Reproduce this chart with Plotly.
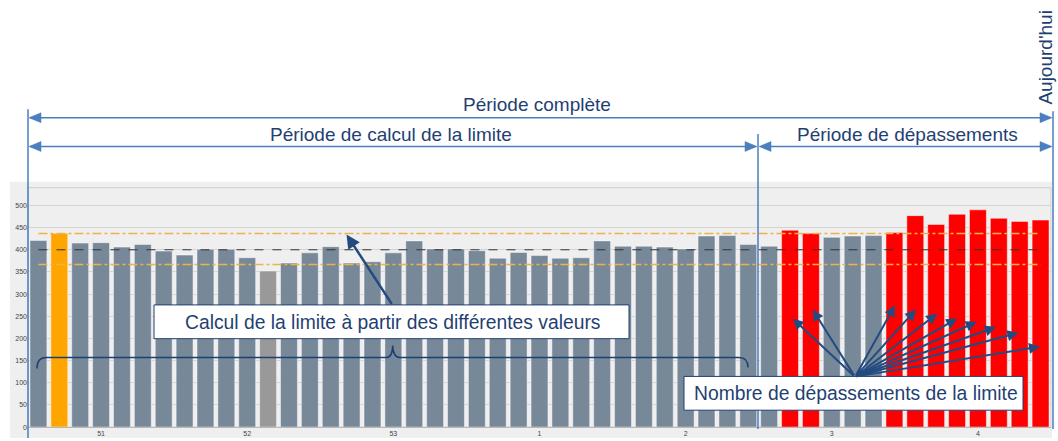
import plotly.graph_objects as go

W, H = 1058, 441

# ---------------- data ----------------
values = [421, 437, 415, 416, 406, 412, 397, 388, 401, 401, 382, 352, 370, 393, 407, 370,
          373, 393, 420, 402, 402, 398, 381, 394, 387, 381, 382, 420, 408, 408, 406, 402,
          431, 432, 412, 408, 444, 437, 428, 431, 432, 439, 477, 457, 480, 490, 471, 464, 467]

SLATE, ORANGE, GREY, RED = "#778899", "#ffa500", "#999999", "#ff0000"
bar_colors = [SLATE, ORANGE] + [SLATE] * 9 + [GREY] + [SLATE] * 24 + [RED, RED] + [SLATE] * 3 + [RED] * 8

week_tick_pos = [3, 10, 17, 24, 31, 38, 45]
week_labels = ["51", "52", "53", "1", "2", "3", "4"]

mean_value = 400
upper_limit = 436.5
lower_limit = 366.5

y_ticks = list(range(0, 501, 50))

FONT = "Liberation Sans, Arial, sans-serif"
NAVY = "#1f3f73"
ARROW = "#234b80"
BLUE = "#4a7ebf"


def px(x):
    return x / W


def py(y):
    return (H - y) / H


x_idx = list(range(len(values)))

fig = go.Figure()
fig.add_trace(go.Bar(
    x=x_idx, y=values,
    marker=dict(color=bar_colors, line=dict(color="rgba(255,255,255,0.45)", width=1)),
    hoverinfo="y",
))

shapes = []
# grey chart area outside the plot area
for (x0, y0, x1, y1) in [(10, 183, 28, 441), (28, 183, 1052, 189), (28, 430, 1052, 441)]:
    shapes.append(dict(type="rect", xref="paper", yref="paper", x0=px(x0), x1=px(x1),
                       y0=py(y1), y1=py(y0), fillcolor="#efefef", line=dict(width=0), layer="below"))
# plot area border
shapes.append(dict(type="rect", xref="paper", yref="paper", x0=px(28), x1=px(1051),
                   y0=py(430), y1=py(189), line=dict(color="#cccccc", width=1), layer="below"))

# reference lines
shapes.append(dict(type="line", xref="x", yref="y", x0=0, x1=len(values) - 1, y0=mean_value, y1=mean_value,
                   line=dict(color="#333333", width=1, dash="dash")))
for lim in (upper_limit, lower_limit):
    shapes.append(dict(type="line", xref="x", yref="y", x0=0, x1=len(values) - 1, y0=lim, y1=lim,
                       line=dict(color="#eeb24a", width=1.5, dash="dashdot")))


def vline(x, y0, y1, color=BLUE, width=1.5):
    shapes.append(dict(type="line", xref="paper", yref="paper", x0=px(x), x1=px(x), y0=py(y0), y1=py(y1),
                       line=dict(color=color, width=width)))


def hline(x0, x1, y, color=BLUE, width=1.5):
    shapes.append(dict(type="line", xref="paper", yref="paper", x0=px(x0), x1=px(x1), y0=py(y), y1=py(y),
                       line=dict(color=color, width=width)))


def tri(tx, ty, direction):
    b = tx + 12 * direction
    path = f"M {px(tx)},{py(ty)} L {px(b)},{py(ty - 5)} L {px(b)},{py(ty + 5)} Z"
    shapes.append(dict(type="path", xref="paper", yref="paper", path=path,
                       fillcolor=BLUE, line=dict(color=BLUE, width=0.5)))


vline(28, 110, 441)
vline(758, 135, 432)
vline(1053, 112, 432)

hline(30, 1050, 118.5)
tri(29, 118.5, 1)
tri(1052, 118.5, -1)

hline(30, 755, 147.5)
tri(29, 147.5, 1)
tri(757, 147.5, -1)

hline(761, 1050, 147.5)
tri(759, 147.5, 1)
tri(1052, 147.5, -1)

# text boxes
for (x0, y0, x1, y1) in [(154, 307, 629, 341), (684, 379, 1023, 413)]:
    shapes.append(dict(type="rect", xref="paper", yref="paper", x0=px(x0), x1=px(x1), y0=py(y1), y1=py(y0),
                       fillcolor="white", line=dict(color=NAVY, width=1)))

# brace
bp = [(37, 371), (37, 360), (46, 360), (386, 360), (392.5, 360), (392.7, 348), (393, 360), (400, 360),
      (739, 360), (748, 360), (748, 370)]
P = [f"{px(a)},{py(b)}" for a, b in bp]
brace = (f"M {P[0]} Q {P[1]} {P[2]} L {P[3]} Q {P[4]} {P[5]} Q {P[6]} {P[7]} L {P[8]} Q {P[9]} {P[10]}")
shapes.append(dict(type="path", xref="paper", yref="paper", path=brace, line=dict(color=NAVY, width=1.5)))

annotations = []


def text(t, x, y, size=19, angle=0):
    annotations.append(dict(text=t, x=px(x), y=py(y), xref="paper", yref="paper", showarrow=False,
                            xanchor="center", yanchor="middle", textangle=angle,
                            font=dict(family=FONT, size=size, color=NAVY)))


text("Période complète", 537, 105)
text("Période de calcul de la limite", 391, 135)
text("Période de dépassements", 907, 135)
text("Aujourd'hui", 1046, 58, angle=-90)
text("Calcul de la limite à partir des différentes valeurs", 392, 325, size=19.3)
text("Nombre de dépassements de la limite", 856, 396, size=19.3)


def arrow(tail, tip, width=2, size=1.2):
    annotations.append(dict(text="", x=px(tip[0]), y=py(tip[1]), xref="paper", yref="paper",
                            ax=tail[0] - tip[0], ay=tail[1] - tip[1], axref="pixel", ayref="pixel",
                            showarrow=True, arrowhead=2, arrowsize=size, arrowwidth=width,
                            arrowcolor=ARROW, standoff=0))


arrow((392.7, 307), (346.5, 236), width=2.5, size=1.1)
origin = (855, 379)
for tip in [(792.7, 320.7), (812.7, 311.7), (895, 307.3), (916, 311.7), (937.3, 315.7),
            (957.3, 320.7), (976.7, 324), (996, 329.3), (1018.3, 335), (1040, 349)]:
    arrow(origin, tip, width=2, size=1.1)

fig.update_layout(
    width=W, height=H,
    margin=dict(l=0, r=0, t=0, b=0),
    paper_bgcolor="white",
    plot_bgcolor="#efefef",
    showlegend=False,
    bargap=0.19,
    font=dict(family=FONT, color="#444444"),
    shapes=shapes,
    annotations=annotations,
    xaxis=dict(domain=[px(28), px(1051)], range=[-0.5, len(values) - 0.5],
               tickvals=week_tick_pos, ticktext=week_labels, tickfont=dict(size=7, color="#444444"),
               showgrid=False, zeroline=False, showline=True, linecolor="#b8b8b8", linewidth=1,
               ticks="", fixedrange=True),
    yaxis=dict(domain=[py(430), py(189)], range=[0, 540], tickvals=y_ticks,
               tickfont=dict(size=7, color="#444444"), showgrid=True, gridcolor="#d4d4d4", gridwidth=1,
               zeroline=False, showline=False, ticks="", fixedrange=True),
)

fig.write_html(
    "out.html",
    config={"displayModeBar": False},
    post_script="document.body.style.margin='0';document.body.style.overflow='hidden';",
)
